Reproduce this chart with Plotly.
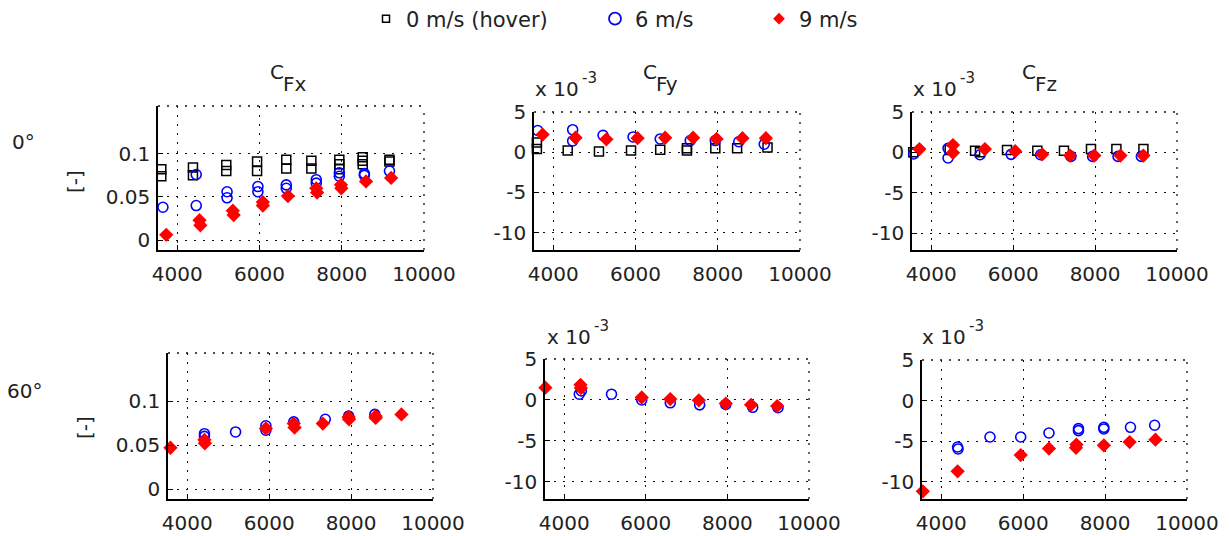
import plotly.graph_objects as go

W, H = 1229, 536

# ---------------- data (rpm, coefficient) ----------------
# Panel 1: C_Fx, 0 deg
cfx0_hover_rpm = [3610, 3610, 4380, 4380, 5190, 5190, 5940, 5940, 6650, 6650, 7260, 7260, 7940, 7940, 7940, 8510, 8510, 8510, 9160, 9160]
cfx0_hover_val = [0.082, 0.074, 0.084, 0.075, 0.087, 0.080, 0.091, 0.080, 0.093, 0.083, 0.092, 0.083, 0.093, 0.088, 0.082, 0.096, 0.092, 0.088, 0.093, 0.091]
cfx0_6_rpm = [3650, 4460, 4460, 5210, 5210, 5960, 5960, 6650, 6650, 7380, 7380, 7940, 7940, 8550, 8550, 9160]
cfx0_6_val = [0.038, 0.040, 0.076, 0.056, 0.049, 0.062, 0.056, 0.064, 0.060, 0.070, 0.066, 0.078, 0.074, 0.077, 0.075, 0.080]
cfx0_9_rpm = [3730, 4540, 4560, 5350, 5370, 6080, 6080, 6690, 7380, 7400, 7980, 7990, 8590, 9200]
cfx0_9_val = [0.006, 0.023, 0.017, 0.034, 0.029, 0.044, 0.040, 0.051, 0.060, 0.055, 0.064, 0.060, 0.068, 0.072]

# Panel 2: C_Fy, 0 deg (x 1e-3)
cfy0_hover_rpm = [3600, 3600, 4350, 5110, 5890, 6600, 7250, 7250, 7940, 8470, 9210]
cfy0_hover_val = [1.2, 0.4, 0.2, 0.1, 0.2, 0.3, 0.2, 0.5, 0.5, 0.5, 0.6]
cfy0_6_rpm = [3620, 4470, 4470, 5210, 5940, 6600, 7330, 7940, 8510, 9130]
cfy0_6_val = [2.7, 2.8, 1.4, 2.1, 1.9, 1.65, 1.45, 1.45, 1.3, 1.0]
cfy0_9_rpm = [3740, 4540, 5290, 6050, 6720, 7400, 7970, 8600, 9170]
cfy0_9_val = [2.2, 1.8, 1.6, 1.75, 1.8, 1.8, 1.65, 1.75, 1.75]

# Panel 3: C_Fz, 0 deg (x 1e-3)
cfz0_hover_rpm = [3560, 4450, 5070, 5190, 5850, 6590, 7240, 7900, 8520, 9180]
cfz0_hover_val = [0.0, 0.3, 0.2, 0.0, 0.3, 0.2, 0.2, 0.4, 0.4, 0.4]
cfz0_6_rpm = [3570, 4410, 4410, 5190, 5950, 6670, 7410, 7940, 8560, 9130]
cfz0_6_val = [-0.2, 0.5, -0.7, -0.3, -0.25, -0.3, -0.5, -0.5, -0.5, -0.5]
cfz0_9_rpm = [3710, 4530, 4530, 5310, 6050, 6710, 7390, 7980, 8620, 9180]
cfz0_9_val = [0.4, 0.9, -0.05, 0.4, 0.15, -0.25, -0.4, -0.4, -0.4, -0.4]

# Panel 4: C_Fx, 60 deg
cfx60_6_rpm = [4420, 4420, 5180, 5920, 5920, 6600, 7370, 7940, 8580]
cfx60_6_val = [0.063, 0.060, 0.065, 0.072, 0.067, 0.0765, 0.0795, 0.083, 0.085]
cfx60_9_rpm = [3590, 4420, 4430, 5920, 6600, 6620, 7310, 7940, 7950, 8600, 8600, 9230]
cfx60_9_val = [0.047, 0.056, 0.052, 0.069, 0.0746, 0.070, 0.0746, 0.082, 0.0795, 0.083, 0.081, 0.085]

# Panel 5: C_Fy, 60 deg (x 1e-3)
cfy60_6_rpm = [4370, 4420, 5160, 5900, 6600, 7320, 7960, 8620, 9240]
cfy60_6_val = [0.7, 1.1, 0.7, 0.0, -0.35, -0.6, -0.55, -0.9, -0.95]
cfy60_9_rpm = [3540, 4400, 4410, 5900, 6600, 7300, 7960, 8580, 9220]
cfy60_9_val = [1.5, 1.85, 1.45, 0.3, 0.1, -0.05, -0.45, -0.6, -0.75]

# Panel 6: C_Fz, 60 deg (x 1e-3)
cfz60_6_rpm = [4400, 4410, 5190, 5940, 6630, 7350, 7350, 7970, 7970, 8620, 9210]
cfz60_6_val = [-5.7, -5.95, -4.47, -4.47, -3.98, -3.44, -3.69, -3.28, -3.48, -3.28, -3.03]
cfz60_9_rpm = [3550, 4400, 5940, 6630, 7290, 7300, 7970, 8600, 9230]
cfz60_9_val = [-11.15, -8.7, -6.7, -5.9, -5.8, -5.4, -5.5, -5.1, -4.8]

series_names = ["0 m/s (hover)", "6 m/s", "9 m/s"]
x_ticks = [4000, 6000, 8000, 10000]
cx_ticks = [0, 0.05, 0.1]
cx_ticktext = ["0", "0.05", "0.1"]
e3_ticks = [-10, -5, 0, 5]
e3_ticktext = ["-10", "-5", "0", "5"]

FONT = "DejaVu Sans"
TXT = "#222222"

# panel boxes in pixels: left, right, top, bottom ; y range
panels = [
    dict(box=(158, 424, 106, 250), yr=(-0.0116, 0.1555), kind="cx"),
    dict(box=(534, 800, 112, 250), yr=(-12.15, 5), kind="e3"),
    dict(box=(912, 1177, 112, 250), yr=(-12.1, 5), kind="e3"),
    dict(box=(168, 433, 353, 499), yr=(-0.0114, 0.155), kind="cx"),
    dict(box=(545, 809, 359, 499), yr=(-12.1, 5), kind="e3"),
    dict(box=(922, 1187, 360, 499), yr=(-12.1, 5), kind="e3"),
]
x_range = (3530, 10000)

styles = [
    dict(symbol="square-open", size=9, color="black", line=dict(width=1.5, color="black")),
    dict(symbol="circle-open", size=10, color="#0000ff", line=dict(width=1.6, color="#0000ff")),
    dict(symbol="diamond", size=11, color="#ff0000", line=dict(width=0)),
]
legend_styles = [
    dict(symbol="square-open", size=7, color="black", line=dict(width=1.5, color="black")),
    dict(symbol="circle-open", size=12, color="#0000ff", line=dict(width=1.8, color="#0000ff")),
    dict(symbol="diamond", size=9, color="#ff0000", line=dict(width=0)),
]

panel_data = [
    [(cfx0_hover_rpm, cfx0_hover_val), (cfx0_6_rpm, cfx0_6_val), (cfx0_9_rpm, cfx0_9_val)],
    [(cfy0_hover_rpm, cfy0_hover_val), (cfy0_6_rpm, cfy0_6_val), (cfy0_9_rpm, cfy0_9_val)],
    [(cfz0_hover_rpm, cfz0_hover_val), (cfz0_6_rpm, cfz0_6_val), (cfz0_9_rpm, cfz0_9_val)],
    [None, (cfx60_6_rpm, cfx60_6_val), (cfx60_9_rpm, cfx60_9_val)],
    [None, (cfy60_6_rpm, cfy60_6_val), (cfy60_9_rpm, cfy60_9_val)],
    [None, (cfz60_6_rpm, cfz60_6_val), (cfz60_9_rpm, cfz60_9_val)],
]

fig = go.Figure()
legend_ids = ["legend", "legend2", "legend3"]

for pi, pdata in enumerate(panel_data):
    ax = "" if pi == 0 else str(pi + 1)
    for si, s in enumerate(pdata):
        if s is None:
            continue
        fig.add_trace(go.Scatter(
            x=s[0], y=s[1], mode="markers", name=series_names[si],
            marker=styles[si], cliponaxis=False, showlegend=False,
            xaxis="x" + ax, yaxis="y" + ax,
        ))

# legend entries (no data, only key symbols)
for si, name in enumerate(series_names):
    fig.add_trace(go.Scatter(x=[None], y=[None], mode="markers", name=name,
                             marker=legend_styles[si], showlegend=True,
                             legend=legend_ids[si], xaxis="x", yaxis="y"))

layout = dict(
    width=W, height=H, margin=dict(l=0, r=0, t=0, b=0, autoexpand=False),
    paper_bgcolor="white", plot_bgcolor="white",
    font=dict(family=FONT, size=20, color=TXT),
)

GRID_DASH = "2px,7px"
shapes = []
for pi, p in enumerate(panels):
    l, r, t, b = p["box"]
    ax = "" if pi == 0 else str(pi + 1)
    xd = [l / W, r / W]
    yd = [1 - b / H, 1 - t / H]
    common = dict(showline=True, linecolor="black", linewidth=1.5, mirror=False,
                  ticks="inside", ticklen=5, tickcolor="black", tickwidth=1.2,
                  showgrid=True, gridcolor="#111111", gridwidth=1.3, griddash=GRID_DASH,
                  zeroline=False, automargin=False,
                  tickfont=dict(family=FONT, size=20, color=TXT))
    layout["xaxis" + ax] = dict(domain=xd, range=list(x_range), anchor="y" + ax,
                                tickvals=x_ticks, ticktext=[str(v) for v in x_ticks],
                                ticklabelstandoff=5, **common)
    if p["kind"] == "cx":
        tv, tt = cx_ticks, cx_ticktext
    else:
        tv, tt = e3_ticks, e3_ticktext
    layout["yaxis" + ax] = dict(domain=yd, range=list(p["yr"]), anchor="x" + ax,
                                tickvals=tv, ticktext=tt, ticklabelstandoff=2, **common)
    # dotted top and right borders
    for (x0, y0, x1, y1) in [(0, 1, 1, 1), (1, 0, 1, 1)]:
        shapes.append(dict(type="line", xref="x" + ax + " domain", yref="y" + ax + " domain",
                           x0=x0, y0=y0, x1=x1, y1=y1,
                           line=dict(color="#111111", width=1.3, dash=GRID_DASH)))
layout["shapes"] = shapes


def ann(text, xpx, ypx, xanchor="left", yanchor="middle", size=20, angle=0):
    return dict(text=text, x=xpx / W, y=1 - ypx / H, xref="paper", yref="paper",
                xanchor=xanchor, yanchor=yanchor, showarrow=False, textangle=angle,
                font=dict(family=FONT, size=size, color=TXT))


annotations = []
# subplot titles C_F?
for cx, sub in [(268, "Fx"), (641, "Fy"), (1020, "Fz")]:
    annotations.append(ann("C", cx, 72))
    annotations.append(ann(sub, cx + 13, 84))
# x 10^-3 labels
for lx, yy in [(533, 89), (911, 89), (545, 337), (920, 337)]:
    annotations.append(ann("x 10", lx, yy))
    annotations.append(ann("-3", lx + 47, yy - 11, size=15))
# row labels
annotations.append(ann("0°", 10, 142))
annotations.append(ann("60°", 5, 391))
annotations.append(ann("[-]", 75, 182, xanchor="center", angle=-90))
annotations.append(ann("[-]", 85, 428, xanchor="center", angle=-90))
layout["annotations"] = annotations

for lid, lx in zip(legend_ids, [366, 595, 759]):
    layout[lid] = dict(x=lx / W, y=1 - 19 / H, xanchor="left", yanchor="middle",
                       orientation="h", bgcolor="rgba(0,0,0,0)", borderwidth=0,
                       font=dict(family=FONT, size=21, color=TXT))

fig.update_layout(**layout)
fig.write_html("out.html", post_script="document.body.style.margin='0';document.body.style.padding='0';")
